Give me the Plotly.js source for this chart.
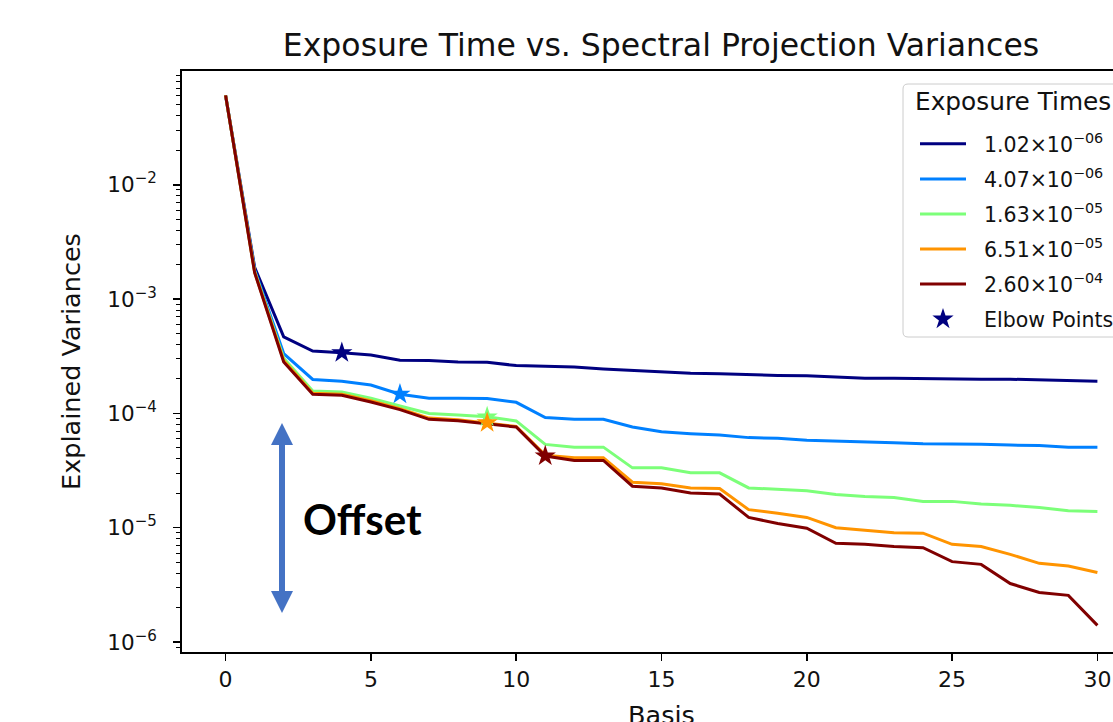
<!DOCTYPE html>
<html>
<head>
<meta charset="utf-8">
<script src="https://cdn.plot.ly/plotly-3.0.1.min.js"></script>
<style>
  html, body { margin: 0; padding: 0; overflow: hidden; background: #fff; }
  #chart { width: 1170px; height: 760px; }
</style>
</head>
<body>
<div id="chart"></div>
<script>
// ---- data ----
const basis = [0,1,2,3,4,5,6,7,8,9,10,11,12,13,14,15,16,17,18,19,20,21,22,23,24,25,26,27,28,29,30];
const seriesNames = ['1.02×10<sup>−06</sup>','4.07×10<sup>−06</sup>','1.63×10<sup>−05</sup>','6.51×10<sup>−05</sup>','2.60×10<sup>−04</sup>'];
const seriesColors = ['#000080','#0080ff','#7cff79','#ff9400','#800000'];
const var_1_02e6 = [0.0605,1.9e-3,4.68e-4,3.51e-4,3.39e-4,3.24e-4,2.92e-4,2.90e-4,2.82e-4,2.80e-4,2.62e-4,2.58e-4,2.54e-4,2.45e-4,2.37e-4,2.29e-4,2.24e-4,2.22e-4,2.17e-4,2.15e-4,2.13e-4,2.07e-4,2.03e-4,2.03e-4,2.01e-4,2.00e-4,1.99e-4,1.99e-4,1.97e-4,1.94e-4,1.91e-4];
const var_4_07e6 = [0.0605,1.8e-3,3.34e-4,1.98e-4,1.91e-4,1.77e-4,1.47e-4,1.36e-4,1.36e-4,1.35e-4,1.25e-4,9.2e-5,8.9e-5,8.9e-5,7.6e-5,6.9e-5,6.65e-5,6.48e-5,6.14e-5,6.05e-5,5.81e-5,5.74e-5,5.66e-5,5.55e-5,5.43e-5,5.43e-5,5.36e-5,5.28e-5,5.25e-5,5.07e-5,5.07e-5];
const var_1_63e5 = [0.0605,1.75e-3,3.04e-4,1.57e-4,1.54e-4,1.36e-4,1.16e-4,1.0e-4,9.66e-5,9.33e-5,8.6e-5,5.36e-5,5.07e-5,5.07e-5,3.34e-5,3.34e-5,3.02e-5,3.02e-5,2.23e-5,2.18e-5,2.11e-5,1.95e-5,1.88e-5,1.84e-5,1.70e-5,1.70e-5,1.61e-5,1.57e-5,1.50e-5,1.41e-5,1.39e-5];
const var_6_51e5 = [0.0605,1.72e-3,2.9e-4,1.5e-4,1.47e-4,1.29e-4,1.1e-4,9.1e-5,8.8e-5,8.28e-5,7.7e-5,4.31e-5,4.09e-5,4.09e-5,2.50e-5,2.42e-5,2.23e-5,2.20e-5,1.44e-5,1.34e-5,1.23e-5,1.00e-5,9.57e-6,9.06e-6,8.96e-6,7.16e-6,6.84e-6,5.85e-6,4.88e-6,4.62e-6,4.06e-6];
const var_2_60e4 = [0.0605,1.7e-3,2.82e-4,1.47e-4,1.44e-4,1.26e-4,1.08e-4,8.87e-5,8.62e-5,8.15e-5,7.6e-5,4.24e-5,3.88e-5,3.88e-5,2.31e-5,2.23e-5,2.01e-5,1.97e-5,1.23e-5,1.09e-5,9.9e-6,7.31e-6,7.16e-6,6.84e-6,6.69e-6,5.05e-6,4.78e-6,3.25e-6,2.71e-6,2.56e-6,1.40e-6];
const elbowIndex = [4, 6, 9, 9, 11];
const yTickVals = [1e-6, 1e-5, 1e-4, 1e-3, 1e-2];
const yTickText = ['10<sup>−6</sup>','10<sup>−5</sup>','10<sup>−4</sup>','10<sup>−3</sup>','10<sup>−2</sup>'];
const xTickVals = [0,5,10,15,20,25,30];

// ---- build ----
const allSeries = [var_1_02e6, var_4_07e6, var_1_63e5, var_6_51e5, var_2_60e4];
const FONT = 'DejaVu Sans, sans-serif';
const NB = '\u00a0\u00a0';
const traces = allSeries.map((ys, i) => ({
  type: 'scatter', mode: 'lines', x: basis, y: ys,
  name: NB + seriesNames[i], legendgroup: 'g' + i,
  line: { color: seriesColors[i], width: 3 }
}));
traces.push({
  type: 'scatter', mode: 'markers',
  x: elbowIndex.map(i => basis[i]),
  y: elbowIndex.map((idx, i) => allSeries[i][idx]),
  name: NB + 'Elbow Points', legendgroup: 'g5',
  marker: { symbol: 'star', size: 16, color: seriesColors, line: { width: 0 } }
});

// plot area in pixels (for annotation placement)
const W = 1170, H = 760;
const PL = 182, PT = 71, PW = 959, PH = 581;
const fx = px => (px - PL) / PW;
const fy = py => 1 - (py - PT) / PH;
const arrowColor = '#4472c4';

// rounded legend frame
function roundRect(x0, y0, x1, y1, r) {
  const P = (x, y) => `${fx(x)},${fy(y)}`;
  return `M ${P(x0 + r, y0)} L ${P(x1 - r, y0)} Q ${P(x1, y0)} ${P(x1, y0 + r)} L ${P(x1, y1 - r)} Q ${P(x1, y1)} ${P(x1 - r, y1)} L ${P(x0 + r, y1)} Q ${P(x0, y1)} ${P(x0, y1 - r)} L ${P(x0, y0 + r)} Q ${P(x0, y0)} ${P(x0 + r, y0)} Z`;
}

const layout = {
  width: W, height: H,
  margin: { l: PL, t: PT, r: W - PL - PW, b: H - PT - PH },
  paper_bgcolor: '#fff', plot_bgcolor: '#fff',
  font: { family: FONT, color: '#111' },
  showlegend: true,
  title: { text: 'Exposure Time vs. Spectral Projection Variances', font: { size: 31.5, family: FONT, color: '#111' }, xref: 'container', x: 661 / W, xanchor: 'center', yref: 'container', y: 1 - 45 / H, yanchor: 'middle' },
  xaxis: {
    range: [-1.5, 31.5], tickvals: xTickVals, ticks: 'outside', ticklen: 7, tickwidth: 1.5, tickcolor: '#000',
    showline: true, linecolor: '#000', linewidth: 1.8, mirror: true, showgrid: false, zeroline: false,
    tickfont: { size: 22, family: FONT, color: '#111' },
    title: { text: 'Basis', font: { size: 25.5, family: FONT, color: '#111' }, standoff: 15 }
  },
  yaxis: {
    type: 'log', range: [-6.087, -1.005], tickvals: yTickVals, ticktext: yTickText,
    ticks: 'outside', ticklen: 7, tickwidth: 1.5, tickcolor: '#000', ticklabelstandoff: 12,
    minor: { ticks: 'outside', ticklen: 4, tickwidth: 1, tickcolor: '#000', dtick: 'D1', showgrid: false },
    showline: true, linecolor: '#000', linewidth: 1.8, mirror: true, showgrid: false, zeroline: false,
    tickfont: { size: 21.5, family: FONT, color: '#111' },
    title: { text: 'Explained Variances', font: { size: 25.5, family: FONT, color: '#111' }, standoff: 19 }
  },
  legend: {
    x: fx(915), xanchor: 'left', y: fy(124), yanchor: 'top',
    bgcolor: 'rgba(0,0,0,0)', borderwidth: 0,
    font: { size: 20.5, family: FONT, color: '#111' },
    tracegroupgap: 5.4, itemwidth: 46, traceorder: 'grouped'
  },
  shapes: [
    { type: 'path', xref: 'paper', yref: 'paper', layer: 'above', path: roundRect(903, 84, 1136, 337, 5),
      fillcolor: 'rgba(255,255,255,0.85)', line: { color: '#cccccc', width: 1 } },
    { type: 'line', xref: 'paper', yref: 'paper', x0: fx(282), x1: fx(282), y0: fy(442), y1: fy(594), line: { color: arrowColor, width: 6 } },
    { type: 'path', xref: 'paper', yref: 'paper', fillcolor: arrowColor, line: { width: 0 },
      path: `M ${fx(282)} ${fy(423)} L ${fx(271)} ${fy(445)} L ${fx(293)} ${fy(445)} Z` },
    { type: 'path', xref: 'paper', yref: 'paper', fillcolor: arrowColor, line: { width: 0 },
      path: `M ${fx(282)} ${fy(613)} L ${fx(271)} ${fy(591)} L ${fx(293)} ${fy(591)} Z` }
  ],
  annotations: [
    { xref: 'paper', yref: 'paper', x: fx(913), y: fy(101), xanchor: 'left', yanchor: 'middle', showarrow: false,
      text: 'Exposure Times', font: { family: FONT, size: 24.8, color: '#111' } },
    { xref: 'paper', yref: 'paper', x: fx(301), y: fy(519), xanchor: 'left', yanchor: 'middle', showarrow: false,
      text: '<b>Offset</b>', font: { family: 'Lato, sans-serif', size: 42, color: '#000' } }
  ]
};

Plotly.newPlot('chart', traces, layout, { displayModeBar: false, staticPlot: true });
</script>
</body>
</html>
